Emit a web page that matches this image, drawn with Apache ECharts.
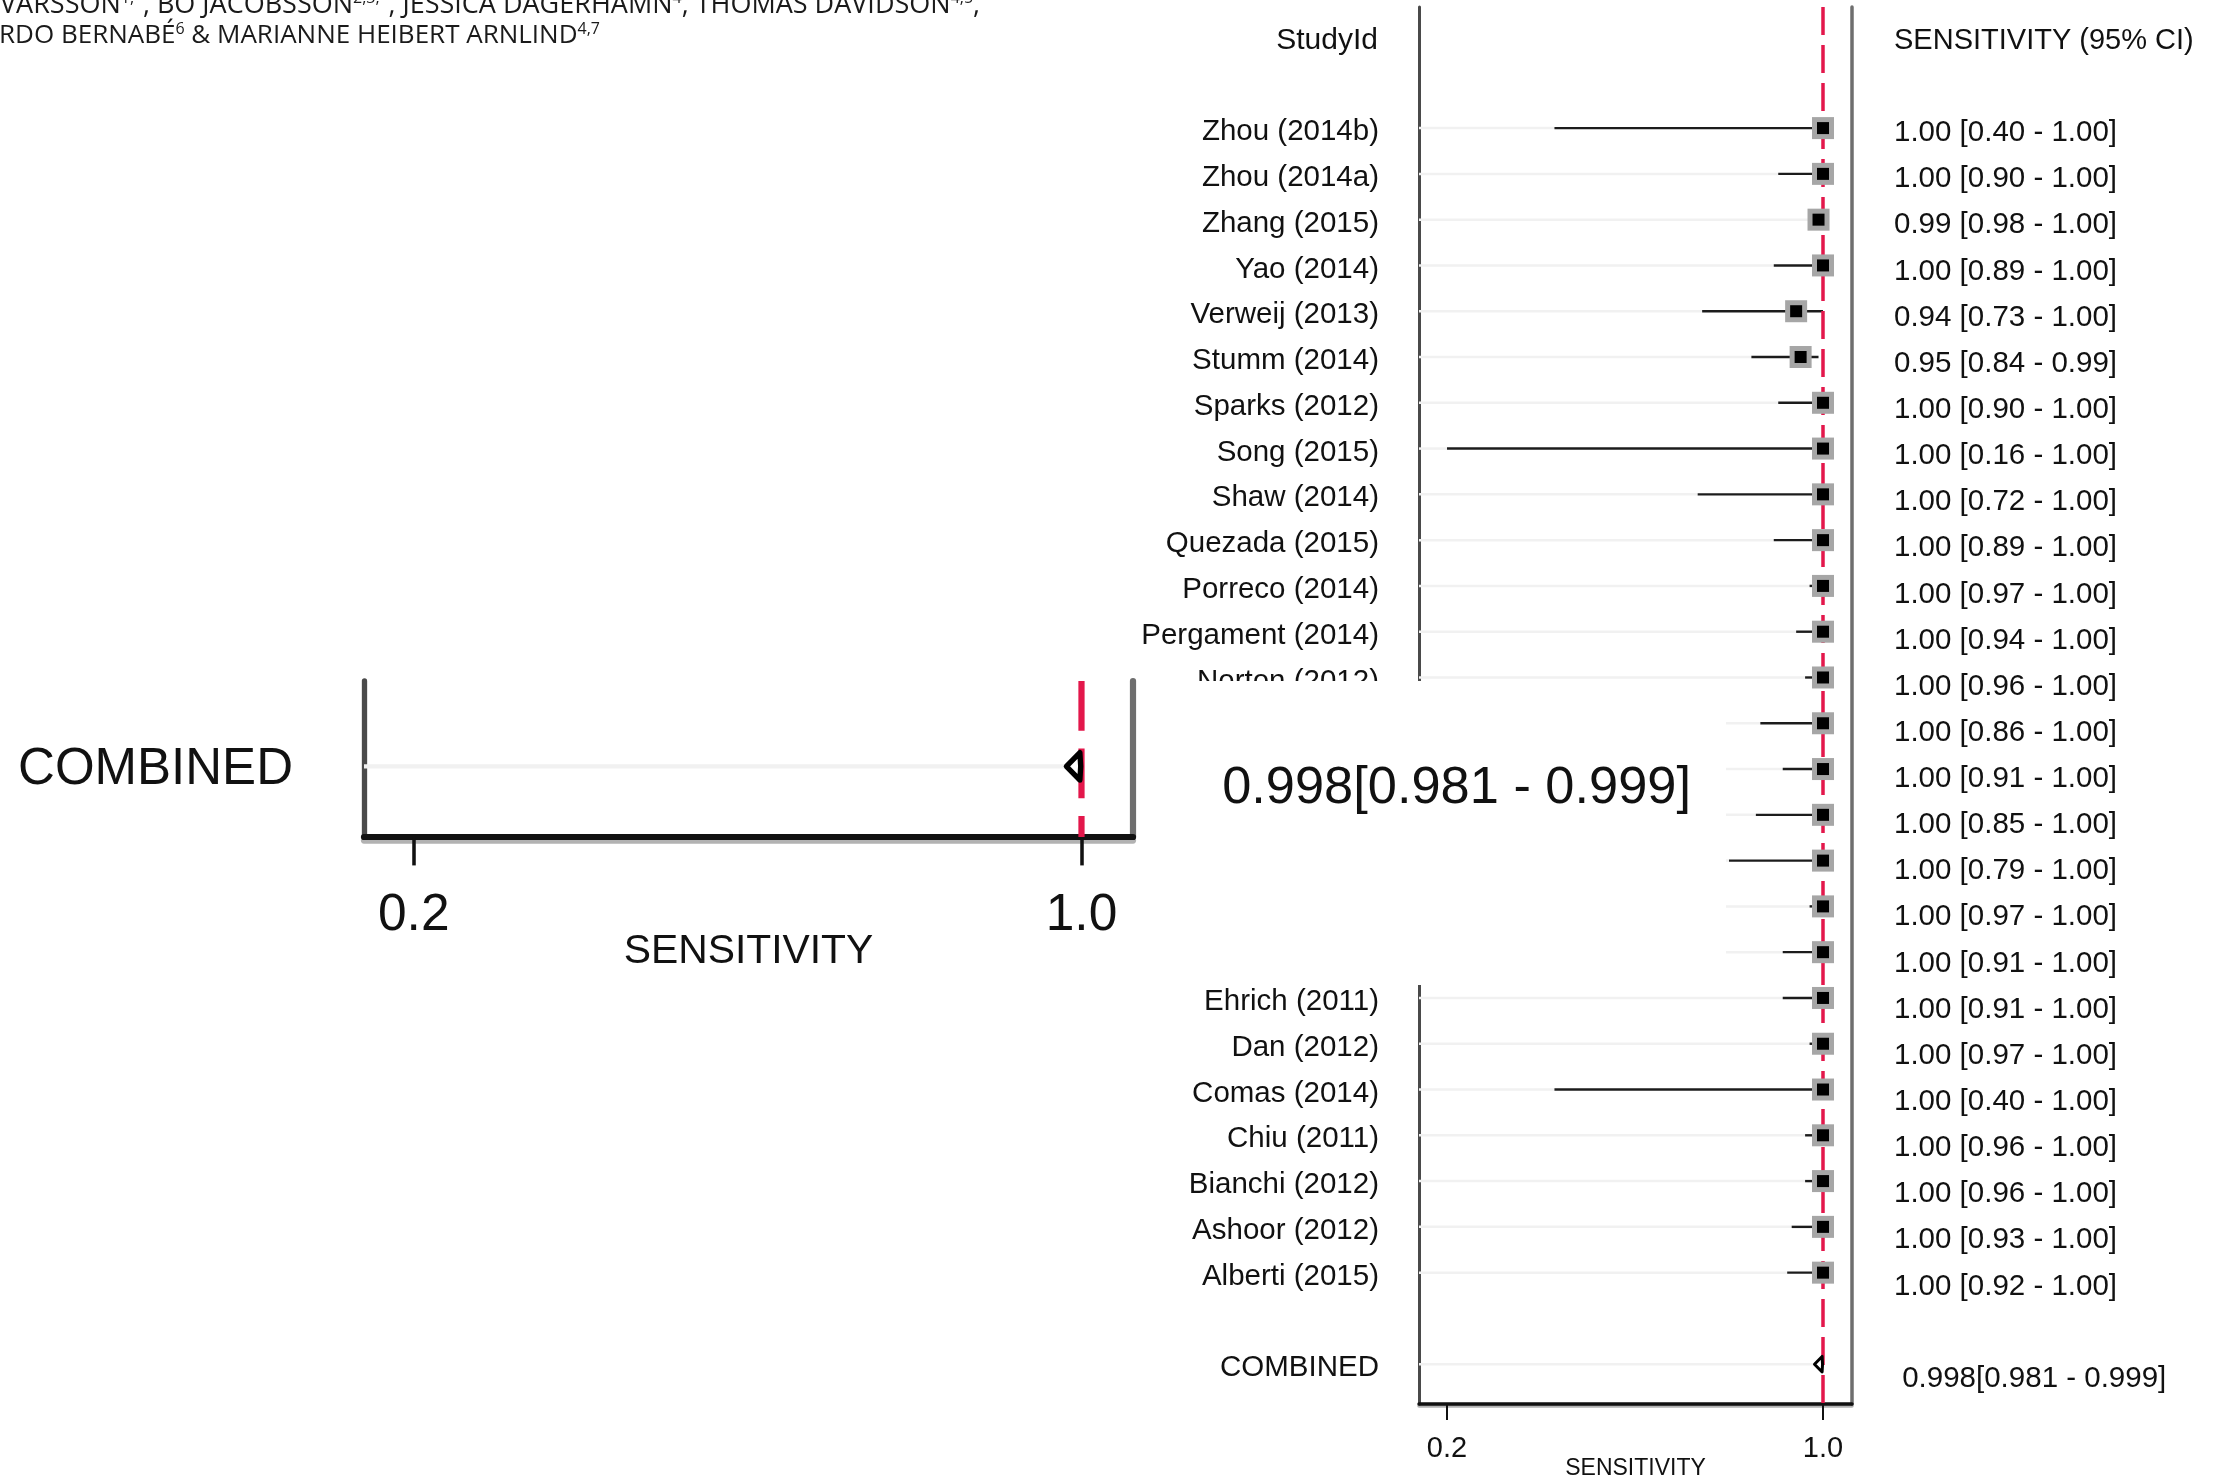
<!DOCTYPE html>
<html>
<head>
<meta charset="utf-8">
<title>Forest plot - sensitivity</title>
<script src="https://cdn.jsdelivr.net/npm/echarts@6.0.0/dist/echarts.min.js"></script>
<style>
  html, body { margin: 0; padding: 0; background: #fff; }
  #main { width: 2213px; height: 1480px; }
</style>
</head>
<body>
<div id="main"></div>
<script>
// study rows, top to bottom (six names are hidden behind the zoomed inset)
var studies = ['Zhou (2014b)', 'Zhou (2014a)', 'Zhang (2015)', 'Yao (2014)', 'Verweij (2013)', 'Stumm (2014)',
  'Sparks (2012)', 'Song (2015)', 'Shaw (2014)', 'Quezada (2015)', 'Porreco (2014)', 'Pergament (2014)',
  'Norton (2012)', '', '', '', '', '', '', 'Ehrich (2011)', 'Dan (2012)', 'Comas (2014)', 'Chiu (2011)',
  'Bianchi (2012)', 'Ashoor (2012)', 'Alberti (2015)'];
var sens   = [1.00, 1.00, 0.99, 1.00, 0.94, 0.95, 1.00, 1.00, 1.00, 1.00, 1.00, 1.00, 1.00,
              1.00, 1.00, 1.00, 1.00, 1.00, 1.00, 1.00, 1.00, 1.00, 1.00, 1.00, 1.00, 1.00];
var ciLow  = [0.40, 0.90, 0.98, 0.89, 0.73, 0.84, 0.90, 0.16, 0.72, 0.89, 0.97, 0.94, 0.96,
              0.86, 0.91, 0.85, 0.79, 0.97, 0.91, 0.91, 0.97, 0.40, 0.96, 0.96, 0.93, 0.92];
var ciHigh = [1.00, 1.00, 1.00, 1.00, 1.00, 0.99, 1.00, 1.00, 1.00, 1.00, 1.00, 1.00, 1.00,
              1.00, 1.00, 1.00, 1.00, 1.00, 1.00, 1.00, 1.00, 1.00, 1.00, 1.00, 1.00, 1.00];
// pooled estimate [sens, low, high]
var pooled = [0.998, 0.981, 0.999];
var xTicks = [0.16, 1.0];

var combinedRow = studies.length + 1;
var X_MIN = 0.0974, X_MAX = 1.0648;
var ZOOM = 1.776;   // inset magnification
var FONT = 'Liberation Sans, Arial, sans-serif';
var RED = '#e3174b';

var rows = [], guideData = [], ciData = [], markData = [];
for (var i = 0; i < studies.length; i++) {
  rows.push(i);
  guideData.push([i, ciLow[i]]);
  ciData.push([i, ciLow[i], ciHigh[i]]);
  markData.push([i, sens[i]]);
}
rows.push(combinedRow);
guideData.push([combinedRow, pooled[1]]);

function studyLabel(v) {
  v = Math.round(v);
  if (v === combinedRow) return 'COMBINED';
  return studies[v] || '';
}
function ciLabel(v) {
  v = Math.round(v);
  if (v === combinedRow) {
    return ' ' + pooled[0].toFixed(3) + '[' + pooled[1].toFixed(3) + ' - ' + pooled[2].toFixed(3) + ']';
  }
  if (v < 0 || v >= studies.length) return '';
  return sens[v].toFixed(2) + ' [' + ciLow[v].toFixed(2) + ' - ' + ciHigh[v].toFixed(2) + ']';
}

// renderers, k = scale factor (1 main plot, ZOOM inset)
function guideItem(k) {
  return function (params, api) {
    var p = api.coord([api.value(1), api.value(0)]);
    return {type: 'line', shape: {x1: params.coordSys.x, y1: p[1], x2: p[0], y2: p[1]},
      style: {stroke: '#f1f1f1', lineWidth: 2.5 * k}};
  };
}
function ciItem(params, api) {
  var a = api.coord([api.value(1), api.value(0)]);
  var b = api.coord([api.value(2), api.value(0)]);
  return {type: 'line', shape: {x1: a[0], y1: a[1], x2: b[0], y2: b[1]},
    style: {stroke: '#1c1c1c', lineWidth: 2.4}};
}
function markItem(params, api) {
  var p = api.coord([api.value(1), api.value(0)]);
  return {type: 'group', children: [
    {type: 'rect', shape: {x: p[0] - 11, y: p[1] - 11, width: 22, height: 22}, style: {fill: '#a6a6a6'}},
    {type: 'rect', shape: {x: p[0] - 6, y: p[1] - 6, width: 12, height: 12}, style: {fill: '#000'}}
  ]};
}
function redItem(k) {
  return function (params, api) {
    var cs = params.coordSys;
    var x = api.coord([api.value(0), api.value(1)])[0];
    return {type: 'line', shape: {x1: x, y1: cs.y, x2: x, y2: cs.y + cs.height},
      style: {stroke: RED, lineWidth: 3.5 * k, lineDash: [28 * k, 10 * k]}};
  };
}
function diamondItem(k) {
  return function (params, api) {
    var r = api.value(0), h = 0.17;
    var pts = [
      api.coord([api.value(2), r]),
      api.coord([api.value(1), r - h]),
      api.coord([api.value(3), r]),
      api.coord([api.value(1), r + h])
    ];
    return {type: 'polygon', shape: {points: pts},
      style: {fill: 'none', stroke: '#000', lineWidth: 3 * k, lineJoin: 'round'}};
  };
}

function xAxisOpt(grid, k, z) {
  return {
    type: 'value', gridIndex: grid, position: 'bottom', min: X_MIN, max: X_MAX, z: z,
    axisLine: {show: true, onZero: false, lineStyle: {color: '#111', width: 3.5 * k,
      shadowColor: 'rgba(0,0,0,0.3)', shadowOffsetY: 2 * k}},
    axisTick: {show: true, customValues: xTicks, length: 16 * k, lineStyle: {color: '#111', width: 2 * k}},
    axisLabel: {customValues: xTicks, margin: 30 * k, fontFamily: FONT, fontSize: 29 * k, color: '#111',
      formatter: function (v) { return v.toFixed(1); }},
    splitLine: {show: false},
    name: 'SENSITIVITY', nameLocation: 'middle', nameGap: 53 * k, nameMoveOverlap: false,
    nameTextStyle: {fontFamily: FONT, fontSize: 23 * k, color: '#111'}
  };
}
// labels sit a few px below the row centre: top-aligned with a short line box
function leftAxisOpt(grid, k, z, min, max, vals) {
  return {
    type: 'value', gridIndex: grid, inverse: true, position: 'left', min: min, max: max, z: z,
    axisLine: {show: true, onZero: false, lineStyle: {color: '#4a4a4a', width: 3 * k}},
    axisTick: {show: false}, splitLine: {show: false},
    axisLabel: {customValues: vals, margin: 40 * k, fontFamily: FONT, fontSize: (k > 1 ? 51 : 29.5), color: '#111',
      verticalAlign: 'top', lineHeight: 8, formatter: studyLabel}
  };
}
function rightAxisOpt(grid, k, z, min, max, vals) {
  return {
    type: 'value', gridIndex: grid, inverse: true, position: 'right', min: min, max: max, z: z,
    axisLine: {show: true, onZero: false, lineStyle: {color: '#6e6e6e', width: 3.5 * k}},
    axisTick: {show: false}, splitLine: {show: false},
    axisLabel: {customValues: vals, margin: 42 * k, fontFamily: FONT, fontSize: 29.5 * k, color: '#111',
      verticalAlign: 'top', lineHeight: 8, formatter: ciLabel}
  };
}

var chart = echarts.init(document.getElementById('main'), null, {renderer: 'canvas'});

var supStyle = {fontSize: 16, fontFamily: 'Open Sans', fill: '#1a1a1a', verticalAlign: 'top', lineHeight: 30};

var option = {
  animation: false,
  backgroundColor: '#fff',
  grid: [
    {left: 1419, top: 7, width: 433, height: 1397, outerBoundsMode: 'none'},
    {left: 364, top: 681, width: 769, height: 156, outerBoundsMode: 'none', z: 110}
  ],
  xAxis: [xAxisOpt(0, 1, 0), xAxisOpt(1, ZOOM, 110)],
  yAxis: [
    leftAxisOpt(0, 1, 0, -2.645, 27.869, rows),
    rightAxisOpt(0, 1, 0, -2.646, 27.636, rows),
    leftAxisOpt(1, ZOOM, 110, 25.949, 27.869, [combinedRow]),
    rightAxisOpt(1, ZOOM, 110, 25.73, 27.636, [combinedRow])
  ],
  graphic: [
    // author lines cut from the page above
    {type: 'text', left: 0, top: -10, z: 5, style: {
      text: 'VARSSON{s|1,*}, BO JACOBSSON{s|2,3,*}, JESSICA DAGERHAMN{s|4}, THOMAS DAVIDSON{s|4,5},',
      font: '27px "Open Sans"', fill: '#1a1a1a', rich: {s: supStyle}}},
    {type: 'text', left: -1, top: 21, z: 5, style: {
      text: 'RDO BERNABÉ{s|6} & MARIANNE HEIBERT ARNLIND{s|4,7}',
      font: '26px "Open Sans"', fill: '#1a1a1a', rich: {s: supStyle}}},
    // column headers
    {type: 'text', x: 1378, y: 41, z: 5, style: {text: 'StudyId', font: '30px ' + FONT, fill: '#111',
      align: 'right', verticalAlign: 'middle'}},
    {type: 'text', x: 1894, y: 41, z: 5, style: {text: 'SENSITIVITY (95% CI)', font: '29px ' + FONT, fill: '#111',
      align: 'left', verticalAlign: 'middle'}},
    // white panel under the zoomed inset
    {type: 'rect', z: 100, shape: {x: 0, y: 681, width: 1726, height: 304}, style: {fill: '#fff'}}
  ],
  series: [
    {type: 'custom', xAxisIndex: 0, yAxisIndex: 0, z: 1, renderItem: guideItem(1), data: guideData},
    {type: 'custom', xAxisIndex: 0, yAxisIndex: 0, z: 2, renderItem: ciItem, data: ciData},
    {type: 'custom', xAxisIndex: 0, yAxisIndex: 0, z: 3, renderItem: redItem(1), data: [[1, 0]]},
    {type: 'custom', xAxisIndex: 0, yAxisIndex: 0, z: 4, renderItem: markItem, data: markData},
    {type: 'custom', xAxisIndex: 0, yAxisIndex: 0, z: 4, renderItem: diamondItem(1),
      data: [[combinedRow, pooled[0], pooled[1], pooled[2]]]},
    // inset
    {type: 'custom', xAxisIndex: 1, yAxisIndex: 2, z: 111, renderItem: guideItem(ZOOM),
      data: [[combinedRow, pooled[1]]]},
    {type: 'custom', xAxisIndex: 1, yAxisIndex: 2, z: 112, renderItem: redItem(ZOOM), data: [[1, combinedRow]]},
    {type: 'custom', xAxisIndex: 1, yAxisIndex: 2, z: 113, renderItem: diamondItem(ZOOM),
      data: [[combinedRow, pooled[0], pooled[1], pooled[2]]]}
  ]
};

chart.setOption(option);
</script>
</body>
</html>
